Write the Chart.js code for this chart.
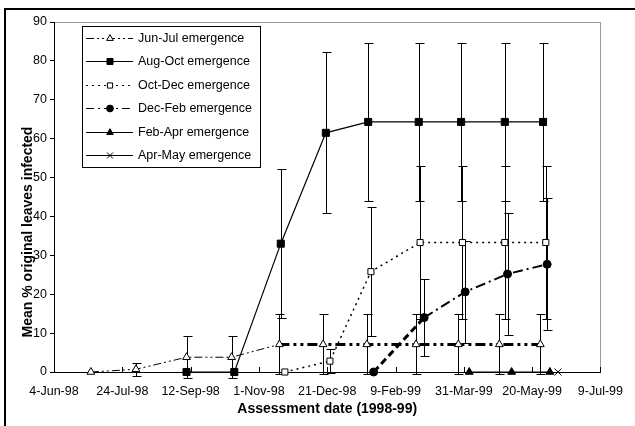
<!DOCTYPE html>
<html>
<head>
<meta charset="utf-8">
<title>Leaf infection by emergence cohort</title>
<script src="https://cdn.jsdelivr.net/npm/chart.js@4.4.1/dist/chart.umd.min.js"></script>
<style>
  html, body { margin: 0; padding: 0; background: #fff; }
  #wrap { width: 635px; height: 426px; position: relative; }
</style>
</head>
<body>
<div id="wrap"><canvas id="c" width="635" height="426"></canvas></div>
<script>
// ---- axis range and labels ----
const axisStart = '1998-06-04';
const axisEnd = '1999-07-09';
const tickStepDays = 50;
const yMax = 90;
const yStep = 10;
const xTitle = 'Assessment date (1998-99)';
const yTitle = 'Mean % original leaves infected';

const seriesNames = [
  'Jun-Jul emergence', 'Aug-Oct emergence', 'Oct-Dec emergence',
  'Dec-Feb emergence', 'Feb-Apr emergence', 'Apr-May emergence'
];

// ---- cohort data: assessment dates, means and error half-widths ----
const junJulDates = ['1998-07-01', '1998-08-03', '1998-09-09', '1998-10-12', '1998-11-16', '1998-12-18',
                     '1999-01-19', '1999-02-24', '1999-03-27', '1999-04-26', '1999-05-26'];
const junJulMean  = [0, 0.7, 3.8, 3.8, 7.1, 7.1, 7.1, 7.1, 7.1, 7.1, 7.1];
const junJulErr   = [0, 1.6, 5.4, 5.4, 7.7, 7.7, 7.7, 7.7, 7.7, 7.7, 7.7];

const augOctDates = ['1998-09-09', '1998-10-14', '1998-11-17', '1998-12-20', '1999-01-20', '1999-02-26',
                     '1999-03-29', '1999-04-30', '1999-05-28'];
const augOctMean  = [0, 0, 33, 61.5, 64.3, 64.3, 64.3, 64.3, 64.3];
const augOctErr   = [0, 0, 19.2, 20.7, 20.3, 20.3, 20.3, 20.3, 20.3];

const octDecDates = ['1998-11-20', '1998-12-23', '1999-01-22', '1999-02-27', '1999-03-30', '1999-04-30', '1999-05-30'];
const octDecMean  = [0, 2.8, 25.8, 33.3, 33.3, 33.3, 33.3];
const octDecErr   = [0, 3, 16.6, 19.6, 19.6, 19.6, 19.6];

const decFebDates = ['1999-01-24', '1999-03-02', '1999-04-01', '1999-05-02', '1999-05-31'];
const decFebMean  = [0, 14, 20.6, 25.2, 27.7];
const decFebErr   = [0, 10, 13.2, 15.8, 17];

const febAprDates = ['1999-04-04', '1999-05-05', '1999-06-02'];
const febAprMean  = [0, 0, 0];

const aprMayDates = ['1999-06-08'];
const aprMayMean  = [0];

const errorSets = [junJulErr, augOctErr, octDecErr, decFebErr, null, null];

// ---- date helpers ----
const MONTHS = ['Jan','Feb','Mar','Apr','May','Jun','Jul','Aug','Sep','Oct','Nov','Dec'];
const DAY = 86400000;
const toUTC = s => { const [y, m, d] = s.split('-').map(Number); return Date.UTC(y, m - 1, d); };
const t0 = toUTC(axisStart);
const dayNo = s => (toUTC(s) - t0) / DAY;
const fmtDate = v => {
  const d = new Date(t0 + v * DAY);
  return d.getUTCDate() + '-' + MONTHS[d.getUTCMonth()] + '-' + String(d.getUTCFullYear()).slice(2);
};
const pts = (dates, vals) => dates.map((s, i) => ({ x: dayNo(s), y: vals[i] }));

const FONT = "'Liberation Sans', Arial, Helvetica, sans-serif";

// line patterns used both in the plot and in the key
const styles = [
  { dash: [8, 3, 2, 3, 2, 3], point: 'triangle', radius: 4.5, fill: '#fff' },
  { dash: [],                 point: 'rect',     radius: 5,   fill: '#000' },
  { dash: [2, 4],             point: 'rect',     radius: 4.3, fill: '#fff' },
  { dash: [8, 4, 2, 4],       point: 'circle',   radius: 4,   fill: '#000' },
  { dash: [],                 point: 'triangle', radius: 4.5, fill: '#000' },
  { dash: [],                 point: 'crossRot', radius: 5,   fill: '#000' }
];

const base = (i, data) => ({
  label: seriesNames[i],
  data,
  borderColor: '#000',
  borderWidth: 1,
  borderDash: styles[i].dash,
  pointStyle: styles[i].point,
  pointRadius: styles[i].radius,
  pointBackgroundColor: styles[i].fill,
  pointBorderColor: '#000',
  pointBorderWidth: 1,
  fill: false,
  tension: 0,
  clip: false
});

const datasets = [
  Object.assign(base(0, pts(junJulDates, junJulMean)), {
    segment: { borderWidth: c => (c.p0DataIndex >= 4 ? 3 : 1),
               borderDash: c => (c.p0DataIndex >= 4 ? [10, 4, 3, 4, 3, 4] : [8, 3, 2, 3, 2, 3]) }
  }),
  Object.assign(base(1, pts(augOctDates, augOctMean)), { borderWidth: 1.2 }),
  Object.assign(base(2, pts(octDecDates, octDecMean)), { borderWidth: 1.5 }),
  Object.assign(base(3, pts(decFebDates, decFebMean)), {
    segment: { borderWidth: c => (c.p0DataIndex === 0 ? 3 : 2),
               borderDash: c => (c.p0DataIndex === 0 ? [7, 4] : [10, 4, 2, 4]) }
  }),
  base(4, pts(febAprDates, febAprMean)),
  base(5, pts(aprMayDates, aprMayMean))
];

// ---- plugins ----
const framePlugin = {
  id: 'frame',
  beforeDraw(chart) {
    const { ctx, chartArea: a } = chart;
    ctx.save();
    ctx.fillStyle = '#fff';
    ctx.fillRect(0, 0, chart.width, chart.height);
    // outer frame
    ctx.strokeStyle = '#000';
    ctx.lineWidth = 2;
    ctx.beginPath();
    ctx.moveTo(5, chart.height + 2);
    ctx.lineTo(5, 9);
    ctx.lineTo(chart.width + 2, 9);
    ctx.stroke();
    // plot area border
    ctx.strokeStyle = '#9a9a9a';
    ctx.lineWidth = 1;
    ctx.strokeRect(Math.round(a.left) + 0.5, Math.round(a.top) + 0.5,
                   Math.round(a.right - a.left), Math.round(a.bottom - a.top));
    ctx.restore();
  },
  beforeDatasetsDraw(chart) {
    // x-axis tick marks pointing into the plot
    const { ctx, chartArea: a, scales: { x } } = chart;
    ctx.save();
    ctx.strokeStyle = '#000';
    ctx.lineWidth = 1;
    ctx.beginPath();
    x.ticks.forEach(t => {
      const px = Math.round(x.getPixelForValue(t.value)) + 0.5;
      ctx.moveTo(px, a.bottom);
      ctx.lineTo(px, a.bottom - 5);
    });
    ctx.stroke();
    // y-axis title
    ctx.fillStyle = '#000';
    ctx.font = 'bold 14px ' + FONT;
    ctx.textAlign = 'center';
    ctx.textBaseline = 'middle';
    ctx.translate(28, 232);
    ctx.rotate(-Math.PI / 2);
    ctx.fillText(yTitle, 0, 0);
    ctx.restore();
  }
};

const errorBarPlugin = {
  id: 'errorBars',
  beforeDatasetsDraw(chart) {
    const { ctx, scales: { x, y } } = chart;
    ctx.save();
    ctx.strokeStyle = '#000';
    ctx.lineWidth = 1;
    ctx.setLineDash([]);
    chart.data.datasets.forEach((ds, di) => {
      const errs = errorSets[di];
      if (!errs) return;
      ds.data.forEach((p, i) => {
        const e = errs[i];
        if (!e) return;
        const px = Math.round(x.getPixelForValue(p.x)) + 0.5;
        const top = Math.round(y.getPixelForValue(p.y + e)) + 0.5;
        const bot = Math.round(y.getPixelForValue(p.y - e)) + 0.5;
        ctx.beginPath();
        ctx.moveTo(px, top); ctx.lineTo(px, bot);
        ctx.moveTo(px - 4, top); ctx.lineTo(px + 5, top);
        ctx.moveTo(px - 4, bot); ctx.lineTo(px + 5, bot);
        ctx.stroke();
      });
    });
    ctx.restore();
  }
};

const keyPlugin = {
  id: 'key',
  afterDraw(chart) {
    const { ctx } = chart;
    const box = { x: 82.5, y: 26.5, w: 178, h: 141 };
    ctx.save();
    ctx.fillStyle = '#fff';
    ctx.fillRect(box.x, box.y, box.w, box.h);
    ctx.strokeStyle = '#000';
    ctx.lineWidth = 1;
    ctx.strokeRect(box.x, box.y, box.w, box.h);
    ctx.font = '12.5px ' + FONT;
    ctx.textBaseline = 'middle';
    ctx.textAlign = 'left';
    chart.data.datasets.forEach((ds, i) => {
      const yy = Math.round(37.5 + i * 23.5) + 0.5;
      const st = styles[i];
      ctx.strokeStyle = '#000';
      ctx.lineWidth = 1;
      ctx.setLineDash(st.dash);
      ctx.beginPath();
      ctx.moveTo(86, yy);
      ctx.lineTo(133, yy);
      ctx.stroke();
      ctx.setLineDash([]);
      ctx.fillStyle = st.fill;
      Chart.helpers.drawPoint(ctx, { pointStyle: st.point, radius: st.radius * 0.85, borderWidth: 1, rotation: 0 }, 110, yy);
      ctx.fillStyle = '#000';
      ctx.fillText(ds.label, 138, yy);
    });
    ctx.restore();
  }
};

new Chart(document.getElementById('c'), {
  type: 'line',
  data: { datasets },
  options: {
    responsive: false,
    animation: false,
    layout: { padding: { left: 0, right: 30, top: 22, bottom: 0 } },
    plugins: { legend: { display: false }, tooltip: { enabled: false } },
    scales: {
      x: {
        type: 'linear',
        min: 0,
        max: dayNo(axisEnd),
        afterFit: s => { s.height = 54; },
        border: { color: '#000', width: 1 },
        grid: { drawOnChartArea: false, drawTicks: false },
        ticks: {
          stepSize: tickStepDays,
          autoSkip: false,
          maxRotation: 0,
          padding: 12,
          color: '#000',
          font: { family: FONT, size: 12.5 },
          callback: v => fmtDate(v)
        },
        title: {
          display: true,
          text: xTitle,
          color: '#000',
          font: { family: FONT, size: 14, weight: 'bold' },
          padding: { top: 0, bottom: 8 }
        }
      },
      y: {
        min: 0,
        max: yMax,
        afterFit: s => { s.width = 54; },
        border: { color: '#000', width: 1 },
        grid: { drawOnChartArea: false, drawTicks: true, tickLength: 4, color: '#000' },
        ticks: {
          stepSize: yStep,
          padding: 3,
          color: '#000',
          font: { family: FONT, size: 12.5 }
        }
      }
    }
  },
  plugins: [framePlugin, errorBarPlugin, keyPlugin]
});
</script>
</body>
</html>
